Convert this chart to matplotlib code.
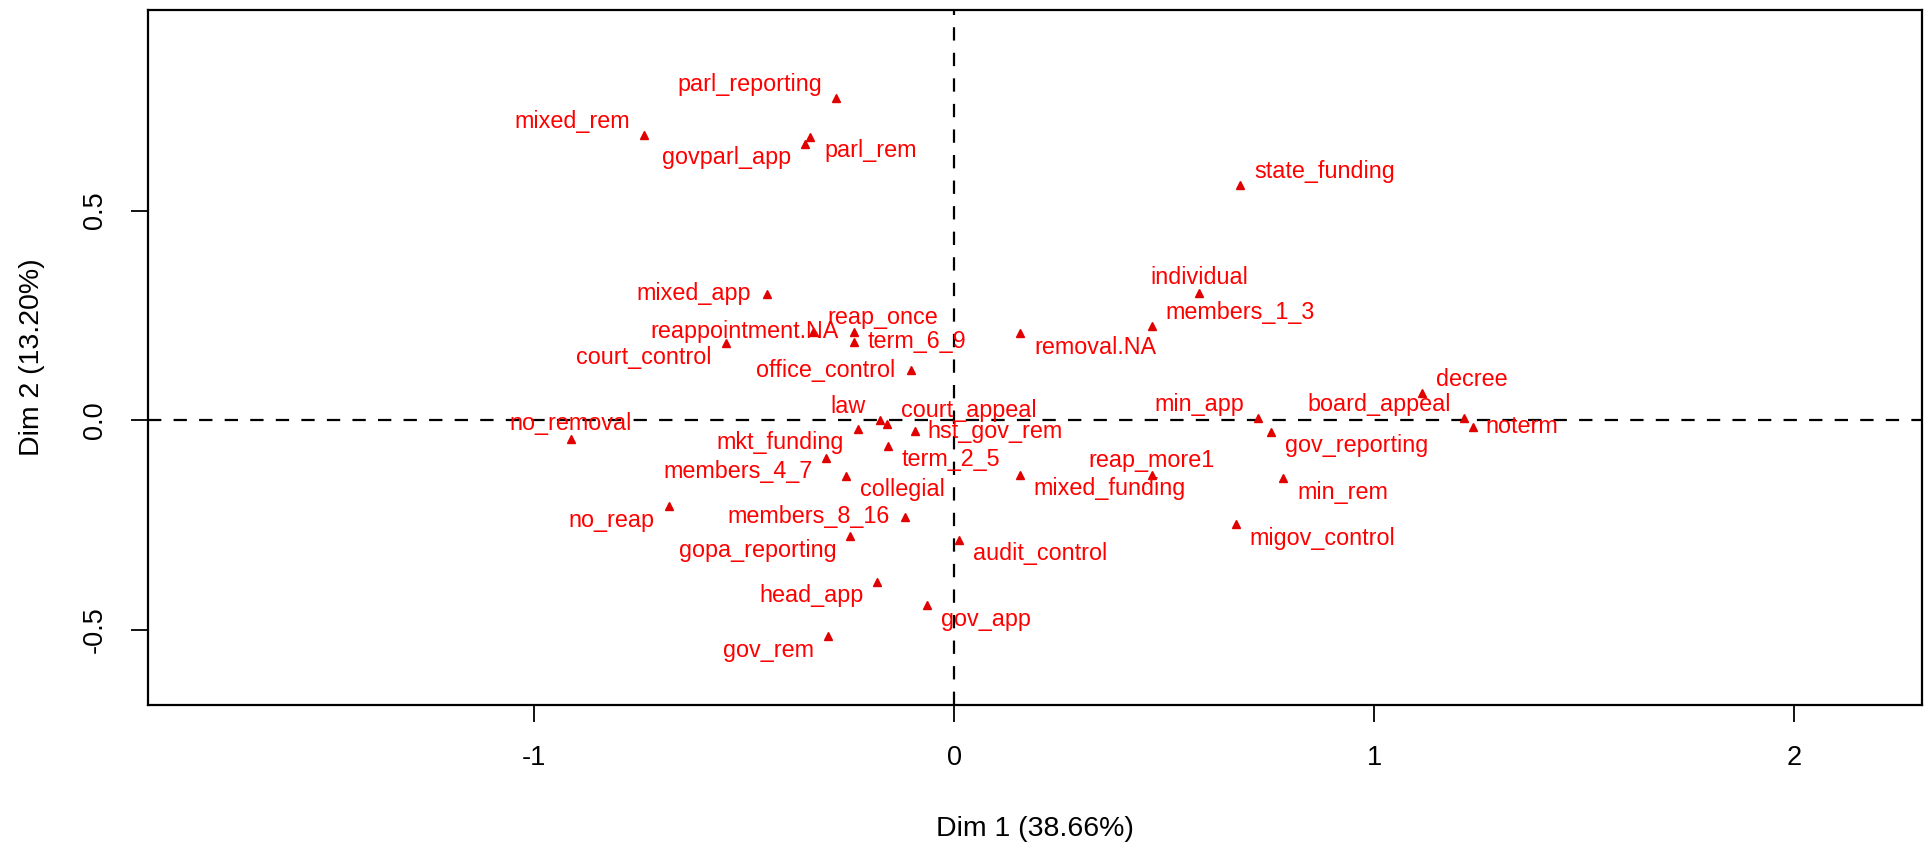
import matplotlib
matplotlib.use("Agg")
from matplotlib import pyplot as plt

plt.rcParams['font.family'] = ['Liberation Sans', 'DejaVu Sans']

# MCA category coordinates (Dim 1, Dim 2)
labels = ["parl_reporting", "mixed_rem", "govparl_app", "parl_rem", "state_funding",
          "individual", "members_1_3", "removal.NA", "mixed_app", "reap_once",
          "reappointment.NA", "term_6_9", "court_control", "office_control", "law",
          "court_appeal", "mkt_funding", "hst_gov_rem", "term_2_5", "members_4_7",
          "collegial", "min_app", "board_appeal", "decree", "noterm",
          "gov_reporting", "min_rem", "migov_control", "reap_more1", "mixed_funding",
          "audit_control", "gov_app", "gov_rem", "head_app", "gopa_reporting",
          "members_8_16", "no_reap", "no_removal"]
dim1 = [-0.281, -0.738, -0.355, -0.342, 0.681,
        0.584, 0.471, 0.158, -0.445, -0.336,
        -0.237, -0.237, -0.544, -0.102, -0.177,
        -0.160, -0.229, -0.094, -0.158, -0.304,
        -0.257, 0.724, 1.215, 1.115, 1.235,
        0.755, 0.784, 0.671, 0.471, 0.156,
        0.012, -0.065, -0.300, -0.183, -0.247,
        -0.116, -0.679, -0.912]
dim2 = [0.768, 0.680, 0.660, 0.676, 0.561,
        0.304, 0.224, 0.207, 0.302, 0.211,
        0.211, 0.187, 0.183, 0.119, 0.000,
        -0.010, -0.020, -0.026, -0.061, -0.090,
        -0.133, 0.004, 0.004, 0.064, -0.016,
        -0.028, -0.139, -0.248, -0.131, -0.130,
        -0.286, -0.442, -0.516, -0.386, -0.277,
        -0.231, -0.205, -0.044]

# where each label sits relative to its point
side = ["ul", "ul", "ll", "lr", "ur",
        "u", "ur", "lr", "l", "ur",
        "l", "r", "ll", "l", "ul",
        "ur", "ll", "r", "lr", "ll",
        "lr", "ul", "ul", "ur", "r",
        "lr", "lr", "lr", "u", "lr",
        "lr", "lr", "ll", "ll", "ll",
        "l", "ll", "u"]

offsets = {
    "ul": (-14, 14, "right"), "ur": (14, 14, "left"),
    "ll": (-14, -14, "right"), "lr": (14, -14, "left"),
    "l": (-16, 0, "right"), "r": (13, 0, "left"),
    "u": (0, 15, "center"),
}

fig = plt.figure(figsize=(19.31, 8.49), dpi=100)
ax = fig.add_axes([0.0766, 0.1696, 0.9187, 0.8186])

ax.axhline(0, color="black", lw=1.6, ls=(0, (6, 5.5)), zorder=1)
ax.axvline(0, color="black", lw=1.6, ls=(0, (6, 5.5)), zorder=1)

ax.plot(dim1, dim2, "^", color="#E00000", markersize=6, ls="none", zorder=3)

for name, x, y, s in zip(labels, dim1, dim2, side):
    dx, dy, ha = offsets[s]
    ax.annotate(name, (x, y), xytext=(dx, dy), textcoords="offset pixels",
                ha=ha, va="center", color="#FF0000", fontsize=16.8, zorder=4)

ax.set_xlim(-1.919, 2.304)
ax.set_ylim(-0.680, 0.979)
ax.set_xticks([-1, 0, 1, 2])
ax.set_xticklabels(["-1", "0", "1", "2"])
ax.set_yticks([-0.5, 0.0, 0.5])
ax.set_yticklabels(["-0.5", "0.0", "0.5"], rotation=90, va="center")

ax.tick_params(direction="out", length=12, width=1.3, labelsize=19.5, pad=17)
for sp in ax.spines.values():
    sp.set_linewidth(1.6)

ax.set_xlabel("Dim 1 (38.66%)", fontsize=20.5)
ax.set_ylabel("Dim 2 (13.20%)", fontsize=20.5)
ax.xaxis.set_label_coords(0.5, -0.160)
ax.yaxis.set_label_coords(-0.058, 0.5)

fig.savefig("out.png", dpi=100)
